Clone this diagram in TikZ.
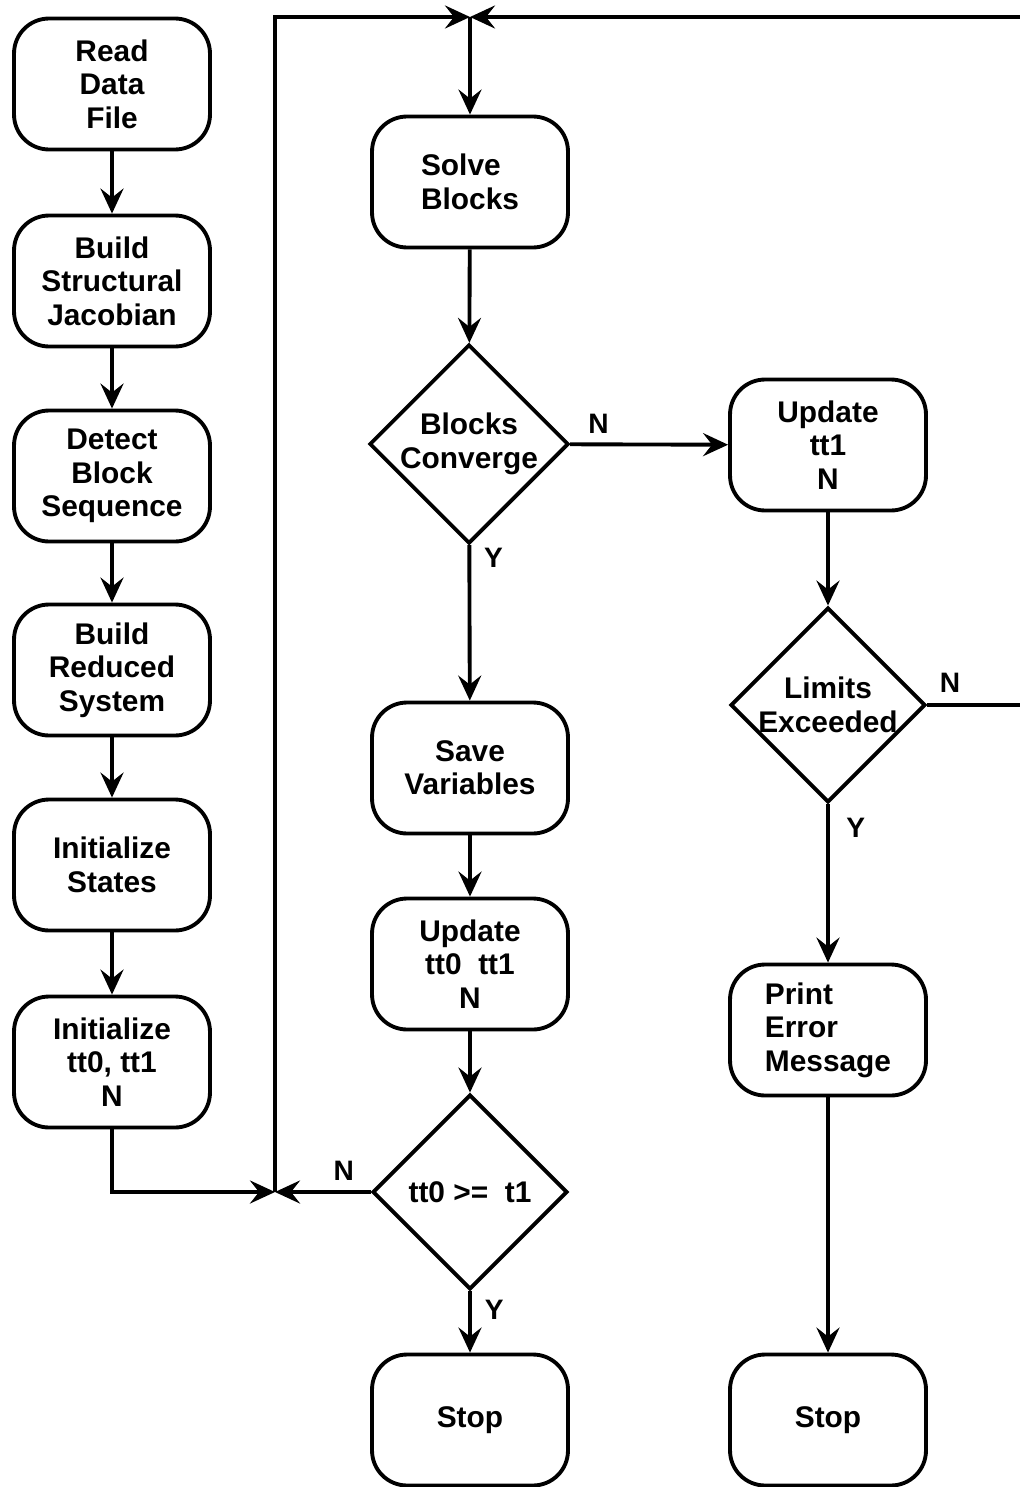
\documentclass[tikz,border=0pt]{standalone}
\usepackage{fontspec}
\setsansfont{Liberation Sans}
\usetikzlibrary{arrows,arrows.meta}
\usetikzlibrary{shapes.geometric}

\begin{document}
\begin{tikzpicture} [x=0.02cm, y=-0.02cm,
  box/.style={draw, line width=2.2pt, rounded corners=0.7cm, minimum width=3.92cm, minimum height=2.62cm, align=center, inner sep=1pt},
  decision/.style={draw, line width=2.2pt, diamond, minimum width=3.9cm, minimum height=3.9cm, inner sep=0pt, align=center},
  flow/.style={black, line width=2.2pt, ->, >={Stealth[length=0.5cm, width=0.46cm, inset=0.18cm]}},
  lbl/.style={font=\sffamily\bfseries\fontsize{16}{18}\selectfont},
  every node/.style={font=\sffamily\bfseries\fontsize{17}{19}\selectfont}]
\useasboundingbox (0,0) rectangle (1019,1487);
% left column
\node[box] (read) at (112,84) {Read\\Data\\File};
\node[box] (jac) at (112,281) {Build\\Structural\\Jacobian};
\node[box] (seq) at (112,476) {Detect\\Block\\Sequence};
\node[box] (red) at (112,670) {Build\\Reduced\\System};
\node[box] (inist) at (112,865) {Initialize\\States};
\node[box] (init) at (112,1062) {Initialize\\tt0, tt1\\N};
% middle column
\node[box, align=left] (solve) at (470,182) {Solve\\Blocks};
\node[decision] (conv) at (469,444) {Blocks\\Converge};
\node[box] (save) at (470,768) {Save\\Variables};
\node[box] (updt) at (470,964) {Update\\tt0 \ tt1\\N};
\node[decision] (test) at (470,1192) {tt0 >= \ t1};
\node[box] (stopa) at (470,1420) {Stop};
% right column
\node[box] (upd) at (828,445) {Update\\tt1\\N};
\node[decision] (lim) at (828,705) {Limits\\Exceeded};
\node[box, align=left] (err) at (828,1030) {Print\\Error\\Message};
\node[box] (stopb) at (828,1420) {Stop};
% loop points
\coordinate (ja) at (275,1192);
\coordinate (jb) at (470,17);
\coordinate (ta) at (275,17);
\coordinate (ra) at (1045,705);
\coordinate (rb) at (1045,17);
\coordinate (ia) at (112,1192);
% connectors
\foreach \a/\b in {read/jac, jac/seq, seq/red, red/inist, inist/init, solve/conv, save/updt, updt/test, upd/lim, err/stopb}
  \draw[flow] (\a) -- (\b);
\draw[flow] (init) -- (ia) -- (ja);
\draw[flow] (test) -- (ja) node[lbl, pos=0.28, above=2pt] {N};
\draw[flow] (ja) -- (ta) -- (jb);
\draw[flow] (rb) -- (jb);
\draw[flow] (jb) -- (solve);
\draw[flow] (conv) -- (save) node[lbl, pos=0.08, right=4pt] {Y};
\draw[flow] (conv) -- (upd) node[lbl, pos=0.18, above=2pt] {N};
\draw[flow] (lim) -- (err) node[lbl, pos=0.15, right=6pt] {Y};
\draw[black, line width=2.2pt] (lim.east) -- (ra) -- (rb);
\node[lbl] (ln) at (950,683) {N};
\draw[flow] (test) -- (stopa) node[lbl, pos=0.3, right=4pt] {Y};
\end{tikzpicture}
\end{document}
